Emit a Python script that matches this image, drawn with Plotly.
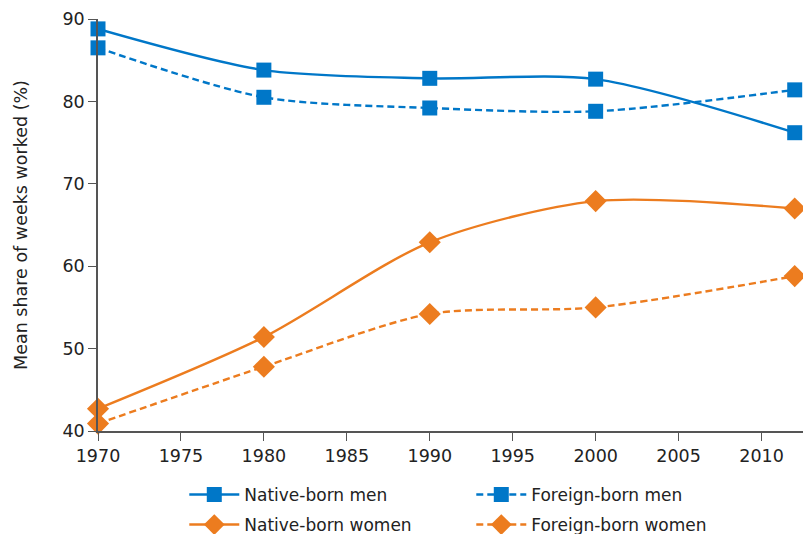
import plotly.graph_objects as go

years = [1970, 1980, 1990, 2000, 2012]
native_men = [88.8, 83.8, 82.8, 82.7, 76.2]
foreign_men = [86.5, 80.5, 79.2, 78.8, 81.4]
native_women = [42.7, 51.4, 62.9, 67.9, 67.0]
foreign_women = [40.9, 47.8, 54.2, 55.0, 58.8]

BLUE = "#0077c8"
ORANGE = "#ec7c1f"
FONT = "DejaVu Sans"
TEXT = "#222222"

# (label, values, colour, dash, marker, legend row)
series = [
    ("Native-born men", native_men, BLUE, "solid", "square", "legend"),
    ("Foreign-born men", foreign_men, BLUE, "7px,4px", "square", "legend"),
    ("Native-born women", native_women, ORANGE, "solid", "diamond", "legend2"),
    ("Foreign-born women", foreign_women, ORANGE, "7px,4px", "diamond", "legend2"),
]

fig = go.Figure()
for name, vals, color, dash, symbol, leg in series:
    fig.add_trace(go.Scatter(
        x=years, y=vals, name=name, mode="lines+markers", legend=leg,
        line=dict(color=color, width=2.4, dash=dash, shape="spline", smoothing=0.8),
        marker=dict(symbol=symbol, size=15 if symbol == "square" else 17, color=color),
        cliponaxis=False,
    ))

legend_common = dict(
    orientation="h", xref="container", yref="container",
    xanchor="left", yanchor="middle", x=0.2295,
    entrywidth=222, entrywidthmode="pixels", itemwidth=50,
    font=dict(family=FONT, size=17, color=TEXT),
    bgcolor="rgba(0,0,0,0)",
)

axis_color = "#555555"
fig.update_layout(
    width=803, height=534,
    margin=dict(l=98, r=0, t=19, b=103, autoexpand=False),
    paper_bgcolor="white", plot_bgcolor="white",
    font=dict(family=FONT, size=17, color=TEXT),
    showlegend=True,
    legend=dict(legend_common, y=1 - 495 / 534),
    legend2=dict(legend_common, y=1 - 525 / 534),
    xaxis=dict(
        range=[1970, 2012.5], tickvals=list(range(1970, 2011, 5)),
        showgrid=False, zeroline=False, showline=True, linecolor=axis_color,
        linewidth=1.5, ticks="outside", ticklen=8, tickcolor=axis_color,
        tickfont=dict(size=17.5, color=TEXT), ticklabelstandoff=0,
    ),
    yaxis=dict(
        range=[40, 90], tickvals=[40, 50, 60, 70, 80, 90],
        showgrid=False, zeroline=False, showline=True, linecolor=axis_color,
        linewidth=1.5, ticks="outside", ticklen=8, tickcolor=axis_color,
        tickfont=dict(size=17.5, color=TEXT),
        title=dict(text="Mean share of weeks worked (%)",
                   font=dict(size=17.5, color=TEXT), standoff=30),
    ),
)

fig.write_html("out.html")
